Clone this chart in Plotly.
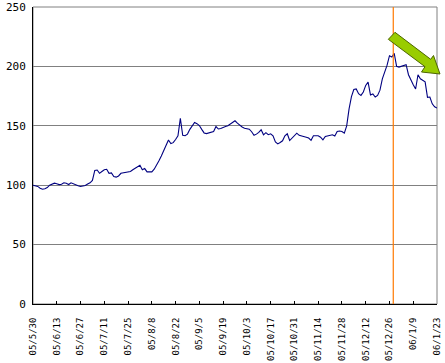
import plotly.graph_objects as go

# Index value series (one value per trading day, 171 points)
values = [
    100, 99.8, 99, 97.5, 96.6, 97, 98, 100, 101, 101.7,
    101.2, 100.5, 100.8, 102, 101.6, 100.6, 102, 101, 100.2, 99.6,
    98.9, 99.4, 99.7, 101, 102, 104, 112.4, 112.8, 110, 111.5,
    113, 113.4, 110, 110.3, 107.3, 106.8, 107.8, 110, 110.3, 110.7,
    110.8, 111.5, 113, 114.5, 115.5, 116.8, 113, 114, 111.2, 111,
    111.2, 113.5, 116.5, 120.5, 124.5, 129, 134, 138, 135, 135.8,
    138.5, 141.5, 156.3, 142, 141.6, 143, 147, 150, 152.8, 151.8,
    150.2, 147, 144, 143.4, 144, 145, 145.2, 149.4, 147.3, 147.8,
    148.9, 149.4, 150, 151.5, 152.6, 154.2, 152.2, 150.3, 149, 148,
    147.3, 147.2, 145, 142, 143, 144.4, 146.6, 142.4, 144.2, 142.5,
    143.3, 141.6, 136.5, 134.8, 136, 137.4, 141.6, 143.3, 137.6, 139.5,
    141.6, 143.8, 142, 141.6, 141, 140.4, 139.7, 137.8, 141.6, 141.6,
    141.6, 140.4, 138.2, 141, 141.6, 141.6, 142.5, 141.5, 145.2, 145.6,
    145.2, 143.8, 150, 164.3, 174.5, 180.5, 181, 177, 175.6, 178.5,
    184, 186.8, 176, 176.8, 174.2, 175.6, 180, 189.5, 195, 201,
    209, 207.9, 211, 200, 199.4, 200, 200.8, 201.5, 193, 188,
    184.5, 181, 193, 189.6, 188.6, 187, 174, 174.2, 168.5, 166,
    164.9,
]
day_index = list(range(len(values)))

tick_labels = [
    "05/5/30", "05/6/13", "05/6/27", "05/7/11", "05/7/25", "05/8/8",
    "05/8/22", "05/9/5", "05/9/19", "05/10/3", "05/10/17", "05/10/31",
    "05/11/14", "05/11/28", "05/12/12", "05/12/26", "06/1/9", "06/1/23",
]
tick_positions = [i * 10 for i in range(len(tick_labels))]
marker_day = 151.6  # position of the orange vertical marker

W, H = 445, 363
ML, MR, MT, MB = 33, 8, 7, 59
PW, PH = W - ML - MR, H - MT - MB


def px(x):
    return (x - ML) / PW


def py(y):
    return (H - MB - y) / PH


fig = go.Figure()
fig.add_trace(go.Scatter(
    x=day_index, y=values, mode="lines",
    line=dict(color="#000080", width=1.1),
    hoverinfo="skip", showlegend=False,
))

arrow_pts = [(395, 32.3), (430.7, 59.3), (433.5, 55.5), (440, 74),
             (421.5, 72), (425, 66.7), (388.3, 39.3)]
path = "M " + " L ".join(f"{px(x):.4f},{py(y):.4f}" for x, y in arrow_pts) + " Z"

fig.update_layout(
    width=W, height=H,
    margin=dict(l=ML, r=MR, t=MT, b=MB, autoexpand=False),
    paper_bgcolor="white", plot_bgcolor="white",
    font=dict(family="DejaVu Sans Mono", color="black"),
    xaxis=dict(
        range=[0, 170], tickmode="array", tickvals=tick_positions,
        ticktext=tick_labels, tickangle=-90, tickfont=dict(size=9),
        showgrid=False, zeroline=False, showline=True, linecolor="black",
        linewidth=1, ticks="inside", ticklen=3, tickcolor="black",
        ticklabelstandoff=9, automargin=False,
    ),
    yaxis=dict(
        range=[0, 250], dtick=50, tickfont=dict(size=11),
        showgrid=True, gridcolor="#808080", gridwidth=1, zeroline=False,
        showline=True, linecolor="black", linewidth=1, ticks="",
        ticklabelstandoff=4, automargin=False,
    ),
    shapes=[
        dict(type="rect", xref="paper", yref="paper", x0=0, x1=1, y0=0, y1=1,
             line=dict(color="#808080", width=1), layer="below"),
        dict(type="line", xref="x", yref="paper", x0=marker_day, x1=marker_day,
             y0=0, y1=1, line=dict(color="#FF7A00", width=1.2)),
        dict(type="path", xref="paper", yref="paper", path=path,
             fillcolor="#99CC00", line=dict(color="#4D6600", width=1)),
    ],
)

fig.write_html(
    "out.html",
    config={"displayModeBar": False},
    post_script="document.body.style.margin='0';document.body.style.overflow='hidden';",
)
